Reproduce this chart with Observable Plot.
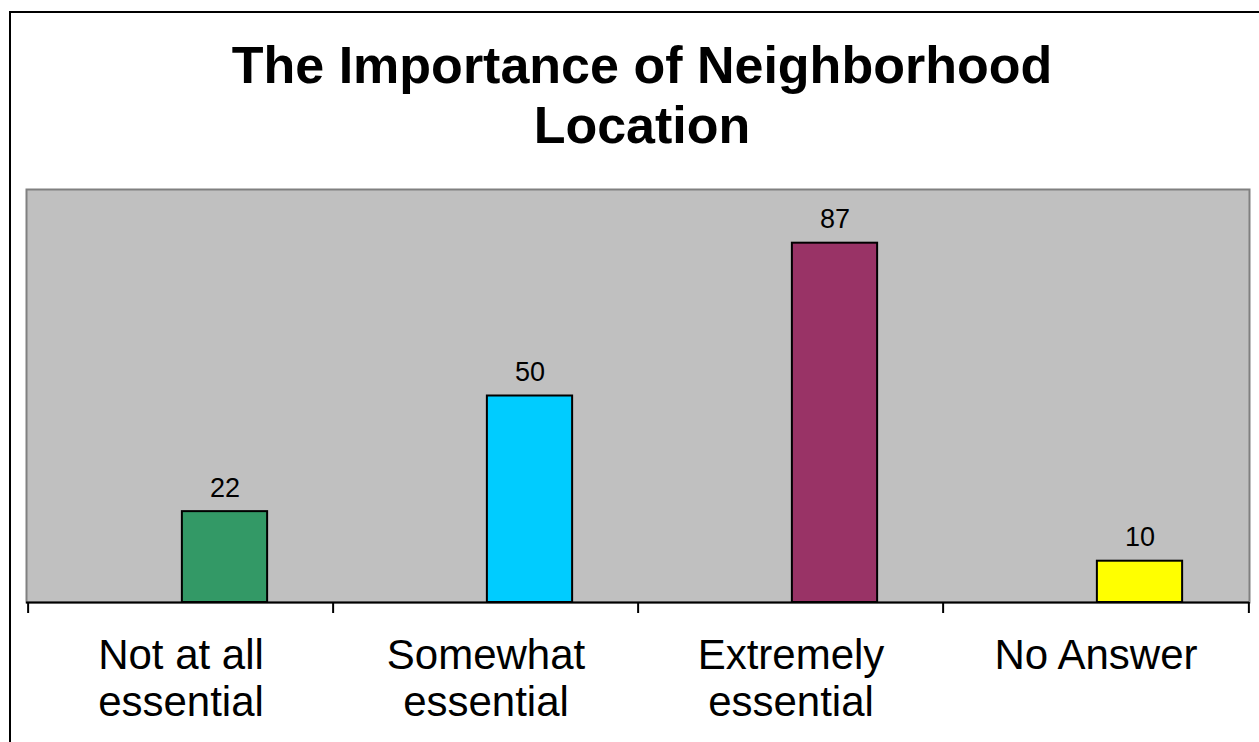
<!DOCTYPE html>
<html><head><meta charset="utf-8">
<script src="https://cdn.jsdelivr.net/npm/d3@7"></script>
<script src="https://cdn.jsdelivr.net/npm/@observablehq/plot@0.6"></script>
<style>
body{margin:0;background:#fff;font-family:"Liberation Sans",Arial,sans-serif;}
#wrap{position:relative;width:1259px;height:742px;overflow:hidden;background:#fff;}
#border{position:absolute;left:9px;top:11px;width:1400px;height:900px;border-left:2px solid #000;border-top:2px solid #000;}
#title{position:absolute;left:25px;width:1234px;top:35px;text-align:center;font-weight:bold;font-size:52px;line-height:60px;color:#000;}
#chart{position:absolute;left:0;top:160px;}
</style></head><body>
<div id="wrap"><div id="border"></div><div id="title">The Importance of Neighborhood<br>Location</div><div id="chart"></div></div>
<script>
const categories = ["Not at all essential", "Somewhat essential", "Extremely essential", "No Answer"];
const tickLabels = ["Not at all\nessential", "Somewhat\nessential", "Extremely\nessential", "No Answer"];
const values = [22, 50, 87, 10];
const colors = ["#339966", "#00CCFF", "#993366", "#FFFF00"];

const data = categories.map((c, i) => ({category: c, value: values[i]}));
const W = 1259, H = 582, mL = 26, mR = 10, mT = 29, mB = 140;
const step = (W - mL - mR) / categories.length;
const font = '"Liberation Sans", Arial, sans-serif';

const plot = Plot.plot({
  width: W, height: H,
  marginLeft: mL, marginRight: mR, marginTop: mT, marginBottom: mB,
  style: {fontFamily: font, background: "transparent", color: "#000", overflow: "visible"},
  x: {domain: categories, padding: 0},
  y: {domain: [0, 100], axis: null},
  color: {domain: categories, range: colors},
  marks: [
    Plot.frame({fill: "#c0c0c0", stroke: "#808080", strokeWidth: 2}),
    Plot.barY(data, {x: "category", y: "value", fill: "category", stroke: "#000", strokeWidth: 2,
      insetLeft: step / 2 + 1, insetRight: step / 2 - 87}),
    Plot.text(data, {x: "category", y: "value", text: d => String(d.value), dx: 44, dy: -15,
      lineAnchor: "bottom", fontSize: 27, fill: "#000", fontFamily: font}),
    Plot.ruleY([0], {stroke: "#000", strokeWidth: 2}),
    Plot.ruleX(categories, {x: d => d, dx: -step / 2, y1: 0, y2: 0, insetBottom: -11, stroke: "#000", strokeWidth: 2}),
    Plot.ruleX([categories[categories.length - 1]], {x: d => d, dx: step / 2, y1: 0, y2: 0, insetBottom: -11, stroke: "#000", strokeWidth: 2}),
    Plot.axisX({tickSize: 0, tickPadding: 33, fontSize: 42, lineHeight: 1.12, fill: "#000", fontFamily: font,
      tickFormat: d => tickLabels[categories.indexOf(d)], label: null})
  ]
});
document.getElementById("chart").appendChild(plot);
</script>
</body></html>
